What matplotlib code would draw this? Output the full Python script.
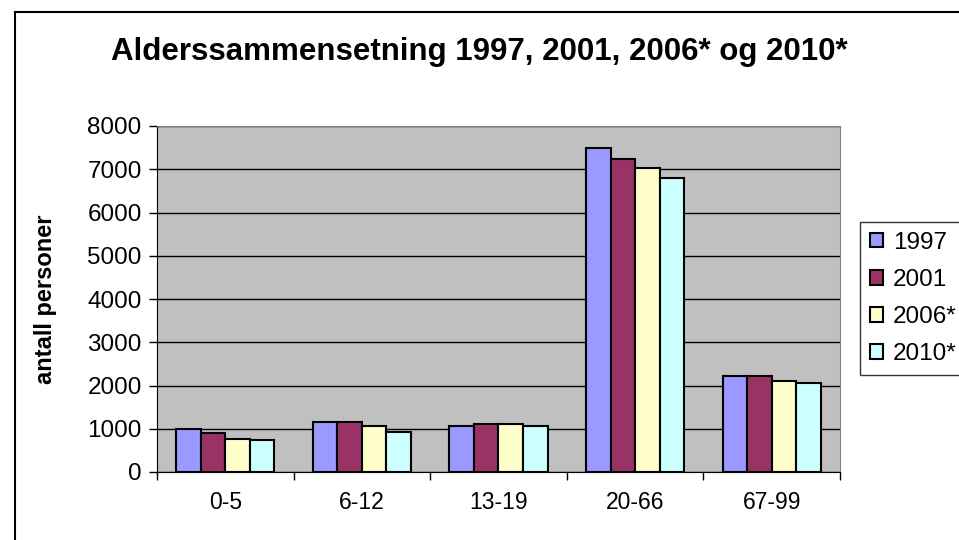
import matplotlib.pyplot as plt
import matplotlib.patches as mpatches
import numpy as np

categories = ['0-5', '6-12', '13-19', '20-66', '67-99']
years = ['1997', '2001', '2006*', '2010*']
v1997 = [990, 1150, 1070, 7500, 2220]
v2001 = [900, 1150, 1110, 7240, 2220]
v2006 = [760, 1070, 1110, 7020, 2100]
v2010 = [730, 930, 1070, 6800, 2060]
colors = ['#9999FF', '#993366', '#FFFFCC', '#CCFFFF']

plt.rcParams['font.family'] = ['Liberation Sans', 'DejaVu Sans']

fig = plt.figure(figsize=(9.59, 5.4), dpi=100)
fig.patches.append(mpatches.Rectangle((15 / 959, -0.1), 1.2, 1 - 12 / 540 + 0.1,
                                      transform=fig.transFigure, fill=False,
                                      edgecolor='black', linewidth=1.5))

ax = fig.add_axes([157 / 959, 1 - 472 / 540, 683 / 959, 346 / 540])
ax.set_facecolor('#C0C0C0')

x = np.arange(len(categories))
w = 0.18
series = [v1997, v2001, v2006, v2010]
for i, vals in enumerate(series):
    ax.bar(x + (i - 1.5) * w, vals, w, color=colors[i], edgecolor='black',
           linewidth=1.5, label=years[i], zorder=3)

ax.set_xlim(-0.5, len(categories) - 0.5)
ax.set_ylim(0, 8000)
ax.set_yticks(range(0, 8001, 1000))
ax.yaxis.grid(True, color='black', linewidth=1)
ax.set_axisbelow(True)

ax.set_xticks(x)
ax.set_xticklabels(categories, fontsize=16.5)
ax.set_xticks(np.arange(-0.5, len(categories)), minor=True)
ax.tick_params(axis='x', which='major', length=0, pad=14)
ax.tick_params(axis='x', which='minor', length=6, width=1)
ax.tick_params(axis='y', labelsize=17.5, length=6, width=1, pad=5)

for s in ['top', 'right']:
    ax.spines[s].set_color('#808080')
for s in ['left', 'bottom']:
    ax.spines[s].set_color('black')

ax.set_ylabel('antall personer', fontsize=17, fontweight='bold', labelpad=22)
fig.text(0.5, 1 - 52 / 540, 'Alderssammensetning 1997, 2001, 2006* og 2010*',
         ha='center', va='center', fontsize=22.5, fontweight='bold')

leg = ax.legend(loc='upper left', bbox_to_anchor=(860 / 959, 1 - 222 / 540),
                bbox_transform=fig.transFigure, fontsize=17.5, frameon=True,
                fancybox=False, edgecolor='black', handlelength=0.55,
                handleheight=0.55, handletextpad=0.4, labelspacing=0.62,
                borderpad=0.4, borderaxespad=0)
leg.get_frame().set_linewidth(1)

fig.savefig('out.png', dpi=100)
